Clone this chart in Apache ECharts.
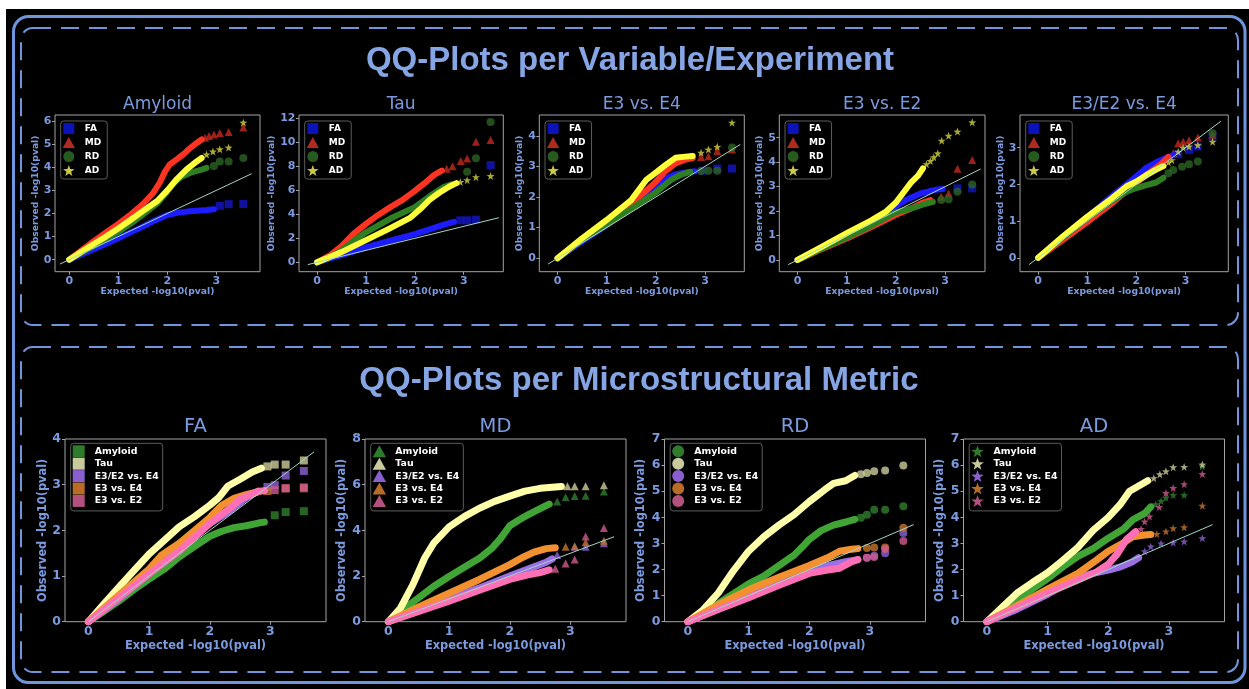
<!DOCTYPE html>
<html><head><meta charset="utf-8">
<script src="https://cdn.jsdelivr.net/npm/echarts@6/dist/echarts.min.js"></script>
<style>
html,body{margin:0;padding:0;background:#fff;width:1249px;height:689px;overflow:hidden;}
#bg{position:absolute;left:6px;top:9px;width:1243px;height:680px;background:#000;}
#chart{position:absolute;left:0;top:0;width:1249px;height:689px;}
</style></head><body><div id="bg"></div><div id="chart"></div>
<script>
// ---------- tick labels ----------
const xTickVals = [0, 1, 2, 3];
const yTicksAmyloid = [0, 1, 2, 3, 4, 5, 6];
const yTicksTau = [0, 2, 4, 6, 8, 10, 12];
const yTicksE34 = [0, 1, 2, 3, 4];
const yTicksE32 = [0, 1, 2, 3, 4, 5];
const yTicksE324 = [0, 1, 2, 3];
const yTicksFA = [0, 1, 2, 3, 4];
const yTicksMD = [0, 2, 4, 6, 8];
const yTicksRD = [0, 1, 2, 3, 4, 5, 6, 7];
const yTicksAD = [0, 1, 2, 3, 4, 5, 6, 7];
const diagLine = [[-0.19, -0.19], [3.72, 3.72]];
const topMetrics = ['FA', 'MD', 'RD', 'AD'];
const bottomGroups = ['Amyloid', 'Tau', 'E3/E2 vs. E4', 'E3 vs. E4', 'E3 vs. E2'];

// ---------- top row: [expected, observed] dense part and sparse tail ----------
const amy_FA = [[0,0],[0.25,0.22],[0.5,0.45],[0.75,0.69],[1,0.93],[1.25,1.18],[1.5,1.43],[1.75,1.7],[2,1.93],[2.2,2.03],[2.4,2.08],[2.6,2.12],[2.8,2.15],[2.95,2.18]];
const amy_FA_t = [[3.07,2.33],[3.25,2.4],[3.55,2.41]];
const amy_MD = [[0,0],[0.25,0.4],[0.5,0.8],[0.75,1.18],[1,1.55],[1.25,1.95],[1.5,2.4],[1.7,2.85],[1.85,3.35],[1.95,3.8],[2.05,4.12],[2.2,4.35],[2.35,4.6],[2.45,4.8],[2.6,5.05],[2.7,5.2]];
const amy_MD_t = [[2.77,5.28],[2.85,5.35],[2.95,5.42],[3.07,5.48],[3.25,5.52],[3.55,5.72]];
const amy_RD = [[0,0],[0.25,0.3],[0.5,0.6],[0.75,0.9],[1,1.2],[1.25,1.55],[1.5,1.95],[1.8,2.45],[2,2.95],[2.15,3.35],[2.3,3.6],[2.5,3.78],[2.7,3.9],[2.8,3.97]];
const amy_RD_t = [[2.95,4.05],[3.07,4.25],[3.25,4.25],[3.55,4.4]];
const amy_AD = [[0,0],[0.25,0.34],[0.5,0.68],[0.75,1.0],[1,1.35],[1.25,1.72],[1.5,2.1],[1.8,2.55],[2,3.0],[2.2,3.5],[2.4,3.92],[2.6,4.25],[2.7,4.4]];
const amy_AD_t = [[2.8,4.55],[2.93,4.68],[3.07,4.78],[3.25,4.85],[3.55,5.93]];

const tau_FA = [[0,0],[0.25,0.3],[0.5,0.6],[0.75,0.92],[1,1.25],[1.5,1.8],[2,2.35],[2.3,2.75],[2.6,3.15],[2.8,3.38]];
const tau_FA_t = [[2.93,3.5],[3.07,3.5],[3.25,3.55],[3.55,8.1]];
const tau_MD = [[0,0],[0.25,0.55],[0.5,1.35],[0.75,2.4],[1,3.2],[1.25,3.95],[1.5,4.6],[1.75,5.2],[2,5.95],[2.2,6.6],[2.4,7.3],[2.55,7.65]];
const tau_MD_t = [[2.65,7.8],[2.77,8.0],[2.94,8.45],[3.07,8.65],[3.25,10.05],[3.55,10.2]];
const tau_RD = [[0,0],[0.25,0.4],[0.5,1.0],[0.75,1.8],[1,2.5],[1.5,3.65],[2,4.6],[2.3,5.5],[2.6,6.3],[2.75,6.5]];
const tau_RD_t = [[3.07,7.55],[3.25,8.67],[3.55,11.7]];
const tau_AD = [[0,0],[0.5,0.85],[1,1.85],[1.5,2.85],[1.9,3.7],[2.1,4.4],[2.3,5.2],[2.5,5.8],[2.7,6.3],[2.85,6.6]];
const tau_AD_t = [[2.93,6.7],[3.07,6.85],[3.25,7.1],[3.55,7.2]];

const e34_FA = [[0,0],[0.5,0.55],[1,1.08],[1.5,1.68],[1.8,2.05],[2,2.3],[2.2,2.6],[2.4,2.74],[2.6,2.8],[2.8,2.84]];
const e34_FA_t = [[2.95,2.86],[3.25,2.93],[3.55,2.93]];
const e34_MD = [[0,0],[0.5,0.6],[1,1.15],[1.5,1.8],[1.8,2.2],[2,2.5],[2.2,2.85],[2.4,3.1],[2.6,3.22],[2.75,3.27]];
const e34_MD_t = [[2.92,3.31],[3.07,3.33],[3.25,3.5],[3.55,3.55]];
const e34_RD = [[0,0],[0.5,0.6],[1,1.1],[1.5,1.62],[2,2.15],[2.3,2.55],[2.5,2.72],[2.7,2.82]];
const e34_RD_t = [[2.92,2.85],[3.07,2.86],[3.25,2.86],[3.55,3.62]];
const e34_AD = [[0,0],[0.5,0.65],[1,1.25],[1.5,1.9],[1.8,2.55],[2,2.8],[2.2,3.05],[2.4,3.28],[2.6,3.32],[2.75,3.34]];
const e34_AD_t = [[2.92,3.45],[3.07,3.55],[3.25,3.64],[3.55,4.43]];

const e32_FA = [[0,0],[0.5,0.52],[1,1.05],[1.5,1.58],[1.8,1.95],[2,2.2],[2.2,2.45],[2.5,2.72],[2.8,2.87],[2.95,2.9]];
const e32_FA_t = [[3.25,2.93],[3.55,2.93]];
const e32_MD = [[0,0],[0.5,0.45],[1,0.88],[1.5,1.35],[2,1.85],[2.3,2.1],[2.55,2.35],[2.7,2.45]];
const e32_MD_t = [[2.92,2.59],[3.07,2.72],[3.25,3.73],[3.55,4.09]];
const e32_RD = [[0,0],[0.5,0.47],[1,0.92],[1.5,1.4],[2,1.95],[2.3,2.1],[2.6,2.3],[2.75,2.38]];
const e32_RD_t = [[2.92,2.45],[3.07,2.48],[3.25,2.79],[3.55,3.09]];
const e32_AD = [[0,0],[0.5,0.55],[1,1.1],[1.5,1.62],[1.8,1.98],[2,2.35],[2.15,2.75],[2.3,3.15],[2.45,3.45],[2.55,3.75]];
const e32_AD_t = [[2.62,3.92],[2.7,4.05],[2.77,4.2],[2.85,4.36],[2.93,4.88],[3.07,5.08],[3.25,5.25],[3.55,5.63]];

const e324_FA = [[0,0],[0.5,0.55],[1,1.1],[1.5,1.68],[1.8,2.0],[2,2.22],[2.2,2.45],[2.4,2.6],[2.6,2.72],[2.75,2.8]];
const e324_FA_t = [[2.85,2.82],[3.07,2.94],[3.25,3.03],[3.55,3.3]];
const e324_MD = [[0,0],[0.5,0.48],[1,0.97],[1.5,1.48],[2,2.05],[2.3,2.35],[2.5,2.55],[2.65,2.75]];
const e324_MD_t = [[2.75,2.85],[2.85,3.12],[2.95,3.16],[3.07,3.2],[3.25,3.28],[3.55,3.35]];
const e324_RD = [[0,0],[0.5,0.55],[1,1.08],[1.5,1.55],[1.8,1.8],[2,1.9],[2.2,1.98],[2.4,2.05],[2.55,2.18]];
const e324_RD_t = [[2.65,2.3],[2.75,2.39],[2.93,2.48],[3.07,2.55],[3.25,2.62],[3.55,3.39]];
const e324_AD = [[0,0],[0.5,0.58],[1,1.12],[1.5,1.62],[1.8,1.95],[2,2.08],[2.2,2.25],[2.4,2.4],[2.55,2.5]];
const e324_AD_t = [[2.65,2.6],[2.72,2.66],[2.85,2.89],[2.95,3.0],[3.07,3.03],[3.25,3.07],[3.55,3.16]];

// ---------- bottom row ----------
const fa_amy = [[0,0],[0.25,0.22],[0.5,0.45],[0.75,0.7],[1,0.93],[1.25,1.15],[1.5,1.42],[1.75,1.65],[2,1.87],[2.2,1.98],[2.4,2.06],[2.6,2.1],[2.8,2.16],[2.9,2.18]];
const fa_amy_t = [[3.07,2.33],[3.25,2.4],[3.55,2.42]];
const fa_tau = [[0,0],[0.25,0.38],[0.5,0.75],[0.75,1.12],[1,1.48],[1.25,1.78],[1.5,2.08],[1.75,2.3],[2,2.55],[2.15,2.72],[2.3,2.97],[2.5,3.12],[2.7,3.28],[2.85,3.36]];
const fa_tau_t = [[2.95,3.4],[3.07,3.44],[3.25,3.44],[3.55,3.53]];
const fa_e324 = [[0,0],[0.5,0.5],[1,1.05],[1.5,1.6],[2,2.15],[2.3,2.4],[2.6,2.72],[2.8,2.86]];
const fa_e324_t = [[2.95,2.95],[3.07,2.99],[3.25,3.2],[3.55,3.3]];
const fa_e34 = [[0,0],[0.5,0.58],[1,1.15],[1.2,1.45],[1.5,1.72],[1.8,2.05],[2,2.28],[2.2,2.55],[2.4,2.7],[2.6,2.78],[2.8,2.85]];
const fa_e34_t = [[2.95,2.86],[3.25,2.92],[3.55,2.92]];
const fa_e32 = [[0,0],[0.5,0.52],[1,1.05],[1.5,1.55],[2,2.15],[2.3,2.45],[2.5,2.68],[2.8,2.85],[2.9,2.87]];
const fa_e32_t = [[3.07,2.88],[3.25,2.92],[3.55,2.94]];

const md_amy = [[0,0],[0.25,0.55],[0.5,1.05],[0.75,1.55],[1,1.98],[1.25,2.38],[1.5,2.78],[1.7,3.2],[1.85,3.65],[2,4.2],[2.15,4.45],[2.3,4.68],[2.5,4.95],[2.65,5.15]];
const md_amy_t = [[2.78,5.26],[2.92,5.45],[3.07,5.5],[3.25,5.52],[3.55,5.7]];
const md_tau = [[0,0],[0.2,0.6],[0.4,1.6],[0.5,2.2],[0.6,2.8],[0.75,3.45],[1,4.15],[1.25,4.6],[1.5,4.97],[1.75,5.27],[2,5.5],[2.25,5.72],[2.5,5.84],[2.75,5.9],[2.85,5.92]];
const md_tau_t = [[2.95,5.93],[3.07,5.93],[3.25,5.93],[3.55,5.97]];
const md_e324 = [[0,0],[0.5,0.5],[1,1.0],[1.5,1.48],[2,2.0],[2.4,2.4],[2.6,2.6],[2.7,2.75]];
const md_e324_t = [[2.78,2.92],[3.07,3.28],[3.25,3.28],[3.55,3.43]];
const md_e34 = [[0,0],[0.5,0.65],[1,1.25],[1.5,1.85],[2,2.5],[2.2,2.8],[2.4,3.05],[2.6,3.2],[2.75,3.24]];
const md_e34_t = [[2.92,3.28],[3.07,3.3],[3.25,3.48],[3.55,3.55]];
const md_e32 = [[0,0],[0.5,0.45],[1,0.9],[1.5,1.38],[2,1.85],[2.3,2.05],[2.5,2.15],[2.65,2.27]];
const md_e32_t = [[2.75,2.32],[2.92,2.55],[3.07,2.72],[3.25,3.73],[3.55,4.1]];

const rd_amy = [[0,0],[0.5,0.7],[1,1.45],[1.25,1.75],[1.5,2.15],[1.75,2.55],[1.9,2.9],[2,3.15],[2.2,3.5],[2.4,3.7],[2.6,3.82],[2.75,3.92]];
const rd_amy_t = [[2.85,3.98],[2.95,4.1],[3.07,4.29],[3.25,4.29],[3.55,4.42]];
const rd_tau = [[0,0],[0.25,0.45],[0.5,1.1],[0.75,1.95],[1,2.7],[1.25,3.25],[1.5,3.7],[1.75,4.1],[2,4.6],[2.25,5.05],[2.4,5.3],[2.6,5.4],[2.75,5.6]];
const rd_tau_t = [[2.85,5.65],[2.95,5.7],[3.07,5.76],[3.25,5.79],[3.55,5.98]];
const rd_e324 = [[0,0],[0.5,0.5],[1,1.0],[1.5,1.5],[2,1.98],[2.3,2.15],[2.6,2.3],[2.8,2.38]];
const rd_e324_t = [[2.95,2.45],[3.07,2.53],[3.25,2.62],[3.55,3.4]];
const rd_e34 = [[0,0],[0.5,0.65],[1,1.22],[1.5,1.7],[2,2.15],[2.3,2.45],[2.5,2.7],[2.7,2.78],[2.8,2.8]];
const rd_e34_t = [[2.95,2.82],[3.07,2.84],[3.25,2.84],[3.55,3.6]];
const rd_e32 = [[0,0],[0.5,0.47],[1,0.92],[1.5,1.4],[2,1.85],[2.3,1.98],[2.5,2.05],[2.7,2.3],[2.8,2.38]];
const rd_e32_t = [[2.95,2.45],[3.07,2.48],[3.25,2.79],[3.55,3.09]];

const ad_amy = [[0,0],[0.25,0.45],[0.5,0.85],[0.75,1.25],[1,1.65],[1.25,2.1],[1.5,2.5],[1.75,2.8],[2,3.2],[2.25,3.55],[2.4,3.9],[2.6,4.15],[2.7,4.4]];
const ad_amy_t = [[2.78,4.5],[2.87,4.62],[2.95,4.75],[3.07,4.85],[3.25,4.85],[3.55,5.95]];
const ad_tau = [[0,0],[0.25,0.55],[0.5,1.1],[0.75,1.5],[1,1.88],[1.25,2.35],[1.5,2.85],[1.75,3.5],[2,4.0],[2.2,4.5],[2.35,5.0],[2.5,5.2],[2.65,5.4]];
const ad_tau_t = [[2.75,5.5],[2.85,5.65],[2.95,5.76],[3.07,5.92],[3.25,5.93],[3.55,6.02]];
const ad_e324 = [[0,0],[0.5,0.48],[1,1.05],[1.5,1.7],[1.75,1.85],[2,1.98],[2.2,2.1],[2.4,2.3],[2.5,2.45]];
const ad_e324_t = [[2.6,2.7],[2.7,2.88],[2.87,3.0],[3.07,3.03],[3.25,3.07],[3.55,3.2]];
const ad_e34 = [[0,0],[0.5,0.62],[1,1.25],[1.5,1.85],[1.8,2.35],[2,2.7],[2.2,2.95],[2.4,3.25],[2.6,3.32],[2.7,3.34]];
const ad_e34_t = [[2.8,3.36],[2.95,3.46],[3.07,3.58],[3.25,3.62],[3.55,4.44]];
const ad_e32 = [[0,0],[0.5,0.55],[1,1.1],[1.5,1.6],[1.8,1.9],[2,2.2],[2.15,2.6],[2.3,3.15],[2.45,3.45]];
const ad_e32_t = [[2.54,3.55],[2.6,3.84],[2.68,4.03],[2.84,4.39],[2.95,4.93],[3.07,5.12],[3.25,5.27],[3.55,5.66]];

// ---------- styles ----------
const TXT = '#7b9be0', FRAME = '#a3a3a3', DIAG = '#a0d8c4', FF = '"DejaVu Sans", sans-serif';
const STAR = 'path://M0,-10L2.351,-3.236L9.511,-3.09L3.804,1.236L5.878,8.09L0,4L-5.878,8.09L-3.804,1.236L-9.511,-3.09L-2.351,-3.236Z';
const SQUARE = 'path://M0,0H10V10H0Z';
const TRI = 'path://M5,0L10,9L0,9Z';
const topStyle = [
  {sym: SQUARE, body: '#1c1cff', tail: '#1515c8', leg: '#0b13b8'},
  {sym: TRI, body: '#ff3322', tail: '#c4291c', leg: '#b02a20'},
  {sym: 'circle', body: '#2f7f22', tail: '#2a6322', leg: '#275a20'},
  {sym: STAR, body: '#ffff3a', tail: '#d2d23e', leg: '#c9c944'}
];
const botStyle = [
  {body: '#41a535', tail: '#2f7f2e', leg: '#2e7b2c'},
  {body: '#ffffaa', tail: '#cdcd9a', leg: '#c9c99e'},
  {body: '#9c70e4', tail: '#8c62d4', leg: '#8a5fd0'},
  {body: '#f39130', tail: '#c2742c', leg: '#b86c28'},
  {body: '#ff6fb5', tail: '#cf5a8e', leg: '#b4507e'}
];

const topPanels = [
  {title: 'Amyloid', box: [55, 115, 205, 156.7], xr: [-0.29, 3.89], yr: [-0.52, 6.26], yt: yTicksAmyloid, ng: 14,
   curves: [[amy_FA, amy_FA_t], [amy_MD, amy_MD_t], [amy_RD, amy_RD_t], [amy_AD, amy_AD_t]]},
  {title: 'Tau', box: [299, 115, 204.3, 156.7], xr: [-0.37, 3.81], yr: [-0.78, 12.28], yt: yTicksTau, ng: 20.4,
   curves: [[tau_FA, tau_FA_t], [tau_MD, tau_MD_t], [tau_RD, tau_RD_t], [tau_AD, tau_AD_t]]},
  {title: 'E3 vs. E4', box: [539.3, 115, 205, 156.7], xr: [-0.37, 3.8], yr: [-0.44, 4.68], yt: yTicksE34, ng: 14.5,
   curves: [[e34_FA, e34_FA_t], [e34_MD, e34_MD_t], [e34_RD, e34_RD_t], [e34_AD, e34_AD_t]]},
  {title: 'E3 vs. E2', box: [779.3, 115, 205.7, 156.7], xr: [-0.37, 3.81], yr: [-0.48, 5.93], yt: yTicksE32, ng: 14.5,
   curves: [[e32_FA, e32_FA_t], [e32_MD, e32_MD_t], [e32_RD, e32_RD_t], [e32_AD, e32_AD_t]]},
  {title: 'E3/E2 vs. E4', box: [1020, 115, 208.3, 156.7], xr: [-0.37, 3.87], yr: [-0.38, 3.89], yt: yTicksE324, ng: 15.2,
   curves: [[e324_FA, e324_FA_t], [e324_MD, e324_MD_t], [e324_RD, e324_RD_t], [e324_AD, e324_AD_t]]}
];
const bottomPanels = [
  {title: 'FA', sym: SQUARE, box: [65, 439, 261, 182.7], xr: [-0.385, 3.915], yr: [0, 4], yt: yTicksFA, ng: 16.8,
   curves: [[fa_amy, fa_amy_t], [fa_tau, fa_tau_t], [fa_e324, fa_e324_t], [fa_e34, fa_e34_t], [fa_e32, fa_e32_t]]},
  {title: 'MD', sym: TRI, box: [365, 439, 261, 182.7], xr: [-0.385, 3.915], yr: [0, 8], yt: yTicksMD, ng: 17.6,
   curves: [[md_amy, md_amy_t], [md_tau, md_tau_t], [md_e324, md_e324_t], [md_e34, md_e34_t], [md_e32, md_e32_t]]},
  {title: 'RD', sym: 'circle', box: [664.5, 439, 261, 182.7], xr: [-0.385, 3.915], yr: [0, 7], yt: yTicksRD, ng: 17.8,
   curves: [[rd_amy, rd_amy_t], [rd_tau, rd_tau_t], [rd_e324, rd_e324_t], [rd_e34, rd_e34_t], [rd_e32, rd_e32_t]]},
  {title: 'AD', sym: STAR, box: [963.5, 439, 261, 182.7], xr: [-0.385, 3.915], yr: [0, 7], yt: yTicksAD, ng: 18,
   curves: [[ad_amy, ad_amy_t], [ad_tau, ad_tau_t], [ad_e324, ad_e324_t], [ad_e34, ad_e34_t], [ad_e32, ad_e32_t]]}
];

const grids = [], xAxes = [], yAxes = [], series = [], legends = [], graphics = [];

function addPanel(p, top) {
  const gi = grids.length;
  const [l, t, w, h] = p.box;
  const lblFont = top ? 11 : 12.5, nameFont = top ? 9.2 : 11.4;
  grids.push({left: l, top: t, width: w, height: h, show: true, borderColor: FRAME, borderWidth: 1,
    backgroundColor: '#000', containLabel: false, outerBoundsMode: 'none'});
  xAxes.push({gridIndex: gi, type: 'value', min: p.xr[0], max: p.xr[1],
    axisLine: {show: false, onZero: false}, splitLine: {show: false},
    axisTick: {show: true, customValues: xTickVals, length: 3, lineStyle: {color: FRAME}},
    axisLabel: {customValues: xTickVals, color: TXT, fontWeight: 'bold', fontSize: lblFont, fontFamily: FF, margin: 4},
    name: 'Expected -log10(pval)', nameLocation: 'middle', nameGap: top ? 15.4 : 18.6,
    nameTextStyle: {color: TXT, fontWeight: 'bold', fontSize: nameFont, fontFamily: FF}});
  yAxes.push({gridIndex: gi, type: 'value', min: p.yr[0], max: p.yr[1],
    axisLine: {show: false, onZero: false}, splitLine: {show: false},
    axisTick: {show: true, customValues: p.yt, length: 3, lineStyle: {color: FRAME}},
    axisLabel: {customValues: p.yt, color: TXT, fontWeight: 'bold', fontSize: lblFont, fontFamily: FF, margin: top ? 3.5 : 4},
    name: 'Observed -log10(pval)', nameLocation: 'middle', nameGap: p.ng,
    nameTextStyle: {color: TXT, fontWeight: 'bold', fontSize: nameFont, fontFamily: FF}});
  const names = top ? topMetrics : bottomGroups;
  const legData = [];
  p.curves.forEach((c, i) => {
    const st = top ? topStyle[i] : botStyle[i];
    const sym = top ? st.sym : p.sym;
    series.push({type: 'line', name: names[i], xAxisIndex: gi, yAxisIndex: gi, data: c[0],
      showSymbol: false, symbol: 'none', silent: true, clip: true,
      lineStyle: {width: top ? 6 : 7, color: st.body, cap: 'round', join: 'round'},
      itemStyle: {color: st.leg}, emphasis: {disabled: true}});
    series.push({type: 'scatter', name: names[i], xAxisIndex: gi, yAxisIndex: gi, data: c[1],
      symbol: sym, symbolSize: 8, silent: true, itemStyle: {color: st.tail}, emphasis: {disabled: true}});
    legData.push({name: names[i], icon: sym, itemStyle: {color: st.leg}});
  });
  series.push({type: 'line', xAxisIndex: gi, yAxisIndex: gi, data: diagLine, showSymbol: false,
    symbol: 'none', silent: true, clip: true, z: 3, lineStyle: {width: 1, color: DIAG}});
  legends.push({left: l + 5.7, top: t + (top ? 6 : 4.3), orient: 'vertical', selectedMode: false,
    itemWidth: 22, itemHeight: top ? 11 : 12, itemGap: top ? 3 : 0.4,
    padding: top ? [2, 6, 3, 2] : [2, 4, 4, 2],
    backgroundColor: 'rgba(0,0,0,0.85)', borderColor: '#5c5c5c', borderWidth: 1, borderRadius: 3,
    textStyle: {color: '#ffffff', fontWeight: 'bold', fontSize: top ? 9 : 9.4, fontFamily: FF},
    data: legData});
  graphics.push({type: 'text', x: l + w / 2, y: top ? 105 : 426.7, z: 10,
    style: {text: p.title, fill: TXT, font: (top ? 17 : 19.5) + 'px "DejaVu Sans"',
      textAlign: 'center', textVerticalAlign: 'middle', align: 'center', verticalAlign: 'middle'}});
}
topPanels.forEach(p => addPanel(p, true));
bottomPanels.forEach(p => addPanel(p, false));

const BORDER = '#6f95dc';
graphics.push(
  {type: 'rect', z: 10, shape: {x: 13.5, y: 16.5, width: 1231.5, height: 666, r: 15},
   style: {fill: 'none', stroke: BORDER, lineWidth: 3}},
  {type: 'rect', z: 10, shape: {x: 21, y: 28, width: 1217, height: 297, r: 12},
   style: {fill: 'none', stroke: BORDER, lineWidth: 2, lineDash: [18, 10]}},
  {type: 'rect', z: 10, shape: {x: 21, y: 347, width: 1217, height: 325, r: 12},
   style: {fill: 'none', stroke: BORDER, lineWidth: 2, lineDash: [18, 10]}},
  {type: 'text', x: 630, y: 61, z: 10,
   style: {text: 'QQ-Plots per Variable/Experiment', fill: '#86a5e5', font: 'bold 33px "Liberation Sans", Arial, sans-serif',
     textAlign: 'center', textVerticalAlign: 'middle', align: 'center', verticalAlign: 'middle'}},
  {type: 'text', x: 639, y: 381, z: 10,
   style: {text: 'QQ-Plots per Microstructural Metric', fill: '#86a5e5', font: 'bold 33px "Liberation Sans", Arial, sans-serif',
     textAlign: 'center', textVerticalAlign: 'middle', align: 'center', verticalAlign: 'middle'}}
);

const chart = echarts.init(document.getElementById('chart'), null, {renderer: 'canvas'});
chart.setOption({
  animation: false,
  backgroundColor: 'transparent',
  grid: grids, xAxis: xAxes, yAxis: yAxes, series: series, legend: legends,
  graphic: {elements: graphics}
});
</script></body></html>
